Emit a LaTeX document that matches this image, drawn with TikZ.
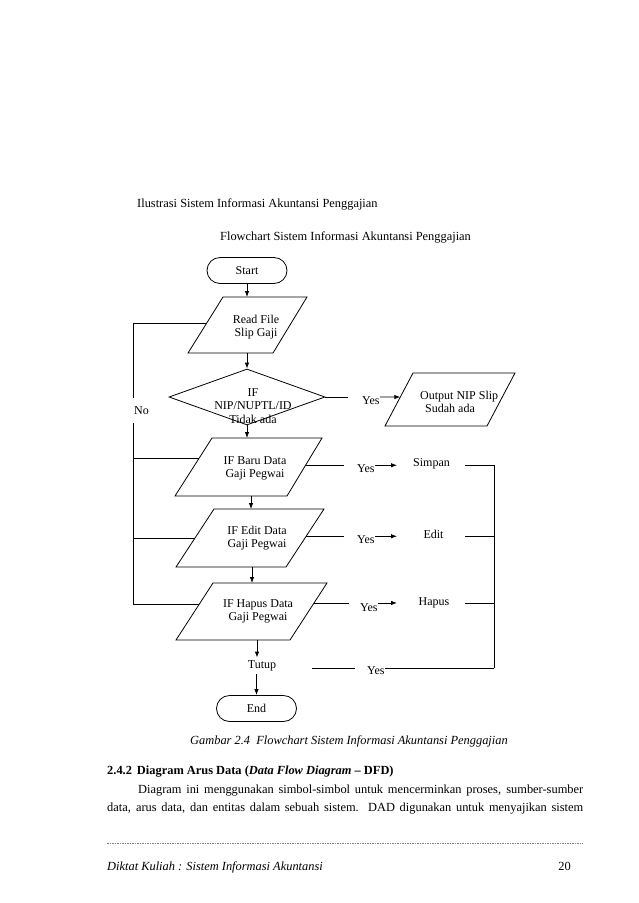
\documentclass[tikz,border=0pt]{standalone}
\usepackage{fontspec}
\setmainfont{Liberation Serif}
\usetikzlibrary{shapes.geometric,arrows.meta,calc}
\begin{document}
\begin{tikzpicture}[x=1pt,y=-1pt,
  line/.style={draw=black, line width=0.8pt},
  arr/.style={line, -{Latex[length=6pt,width=4.5pt]}},
  shp/.style={draw=black, line width=0.8pt},
  cfont/.style={font=\fontsize{12}{13.2}\selectfont},
  term/.style={shp, cfont, rectangle, rounded corners=13pt, minimum width=80pt, minimum height=26pt, inner sep=0pt},
  ctext/.style={cfont, align=center, inner sep=1pt},
  lbl/.style={cfont, inner sep=1pt},
  yl/.style={cfont, inner sep=0pt, anchor=base west},
  body/.style={font=\fontsize{12.4}{15}\selectfont, inner sep=0pt, anchor=base west},
  bodyit/.style={font=\fontsize{12.4}{15}\selectfont\itshape, inner sep=0pt, anchor=base west},
]
\useasboundingbox[fill=white] (0,0) rectangle (638,903);

% page texts
\node[body] (title) at (137,207) {Ilustrasi Sistem Informasi Akuntansi Penggajian};
\node[body] (fctitle) at (220,240) {Flowchart Sistem Informasi Akuntansi Penggajian};

% terminators
\node[term] (start) at (247,270.5) {Start};
\node[term] (end) at (256.5,708.5) {End};

% parallelogram corners
\coordinate (read-tl) at (223,297); \coordinate (read-tr) at (307,297);
\coordinate (read-br) at (273,353); \coordinate (read-bl) at (188,353);
\coordinate (out-tl) at (413,373); \coordinate (out-tr) at (515,373);
\coordinate (out-br) at (487,426); \coordinate (out-bl) at (385,426);
\coordinate (baru-tl) at (212,438); \coordinate (baru-tr) at (322,438);
\coordinate (baru-br) at (287,496); \coordinate (baru-bl) at (175,496);
\coordinate (edit-tl) at (214,509); \coordinate (edit-tr) at (324,509);
\coordinate (edit-br) at (286,567); \coordinate (edit-bl) at (176,567);
\coordinate (hapus-tl) at (213,583); \coordinate (hapus-tr) at (327,583);
\coordinate (hapus-br) at (290,640); \coordinate (hapus-bl) at (176,640);

\foreach \p in {read,out,baru,edit,hapus}
  \draw[shp] (\p-tl) -- (\p-tr) -- (\p-br) -- (\p-bl) -- cycle;

% diamond
\node[shp, diamond, minimum width=156pt, minimum height=56pt, inner sep=0pt] (dia) at (247,397) {};

% texts in shapes
\node[ctext] (read) at (256,327) {Read File\\Slip Gaji};
\node[ctext] (diatxt) at (253,406) {IF\\NIP/NUPTL/ID\\Tidak ada};
\node[ctext, align=left, anchor=west, inner sep=0pt] (out) at (420,401.5) {Output NIP Slip\\\hspace*{5pt}Sudah ada};
\node[ctext] (baru) at (255,468.5) {IF Baru Data\\Gaji Pegwai};
\node[ctext] (edit) at (257,538.5) {IF Edit Data\\Gaji Pegwai};
\node[ctext] (hapus) at (258,611.5) {IF Hapus Data\\Gaji Pegwai};
\node[lbl, inner sep=3pt] (tutup) at (262,666) {Tutup};

\node[lbl] (simpan) at (431.5,464) {Simpan};
\node[lbl] (editr) at (433.5,534) {Edit};
\node[lbl] (hapusr) at (434,603) {Hapus};

\node[yl] (yes1) at (362,404) {Yes};
\node[yl] (yes2) at (357,472) {Yes};
\node[yl] (yes3) at (357,543) {Yes};
\node[yl] (yes4) at (360,611) {Yes};
\node[yl] (yes5) at (367,674) {Yes};

\node[lbl, minimum height=25pt, inner sep=0pt] (no) at (141.5,410.5) {No};

% edge points
\coordinate (read-l) at ($(read-bl)!0.52!(read-tl)$);
\coordinate (baru-l) at ($(baru-bl)!0.64!(baru-tl)$);
\coordinate (edit-l) at ($(edit-bl)!0.5!(edit-tl)$);
\coordinate (hapus-l) at ($(hapus-bl)!0.63!(hapus-tl)$);
\coordinate (baru-r) at ($(baru-br)!0.53!(baru-tr)$);
\coordinate (edit-r) at ($(edit-br)!0.53!(edit-tr)$);
\coordinate (hapus-r) at ($(hapus-br)!0.65!(hapus-tr)$);
\coordinate (out-l) at ($(out-bl)!0.547!(out-tl)$);
\coordinate (lx) at (133,324);
\coordinate (rx) at (494,465);
\coordinate (rl) at (465,465);
\coordinate (tipx) at (397,465);
\coordinate (tut-r) at (312,668);

% main vertical flow
\draw[arr] (start.south) -- (start.south |- read-tl);
\draw[arr] (dia.north |- read-bl) -- (dia.north);
\draw[arr] (dia.south) -- (dia.south |- baru-tl);
\draw[arr] ([xshift=76pt]baru-bl) -- ([xshift=76pt]baru-bl |- edit-tl);
\draw[arr] ([xshift=76pt]edit-bl) -- ([xshift=76pt]edit-bl |- hapus-tl);
\draw[arr] ([xshift=81pt]hapus-bl) -- ([xshift=81pt]hapus-bl |- tutup.north);
\draw[arr] (end.north |- tutup.south) -- (end.north);

% left "No" loop
\draw[line] (lx |- read-l) -- (read-l);
\draw[line] (lx |- baru-l) -- (baru-l);
\draw[line] (lx |- edit-l) -- (edit-l);
\draw[line] (lx |- hapus-l) -- (hapus-l);
\draw[line] (lx |- read-l) -- (lx |- no.north);
\draw[line] (lx |- no.south) -- (lx |- hapus-l);

% diamond yes
\draw[line] (dia.east) -- ([xshift=-14pt]yes1.west |- dia.east);
\draw[arr] (yes1.east |- dia.east) -- (out-l);

% rows
\draw[line] (baru-r) -- ([xshift=-13pt]yes2.west |- baru-r);
\draw[arr] (yes2.east |- baru-r) -- (tipx |- baru-r);
\draw[line] (rl |- baru-r) -- (rx |- baru-r);

\draw[line] (edit-r) -- ([xshift=-13pt]yes3.west |- edit-r);
\draw[arr] (yes3.east |- edit-r) -- (tipx |- edit-r);
\draw[line] (rl |- edit-r) -- (rx |- edit-r);

\draw[line] (hapus-r) -- ([xshift=-11pt]yes4.west |- hapus-r);
\draw[arr] (yes4.east |- hapus-r) -- (tipx |- hapus-r);
\draw[line] (rl |- hapus-r) -- (rx |- hapus-r);

\draw[line] (tut-r) -- ([xshift=-12pt]yes5.west |- tut-r);
\draw[line] (yes5.east |- tut-r) -- (rx |- tut-r);
\draw[line] (rx) -- (rx |- tut-r);

% caption and body text
\node[bodyit] (caption) at (190,744) {Gambar 2.4\ \ Flowchart Sistem Informasi Akuntansi Penggajian};
\node[body] (heading) at (107,774) {\bfseries 2.4.2\hspace{5pt}Diagram Arus Data (\textit{Data Flow Diagram} – DFD)};
\node[body] (para1) at (138,793) {\hbox to 445pt{Diagram ini menggunakan simbol-simbol untuk mencerminkan proses, sumber-sumber}};
\node[body] (para2) at (107,811) {\hbox to 476pt{data, arus data, dan entitas dalam sebuah sistem.\ \ DAD digunakan untuk menyajikan sistem}};

\coordinate (rule-l) at (107,843);
\coordinate (rule-r) at (583,843);
\draw[gray, line width=0.6pt, dash pattern=on 1.5pt off 1pt] (rule-l) -- (rule-r);
\node[bodyit] (footer) at (107,870) {Diktat Kuliah : Sistem Informasi Akuntansi};
\node[body, anchor=base east] (pagenum) at (571,870) {20};
\end{tikzpicture}
\end{document}
